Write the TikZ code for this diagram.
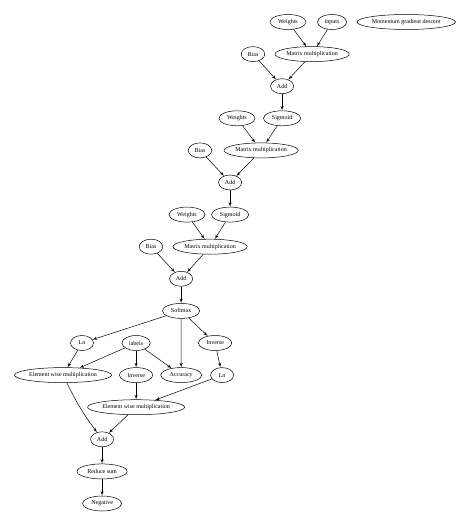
\documentclass[tikz,border=0pt]{standalone}
\usepackage{fontspec}
\setmainfont{Liberation Serif}
\usetikzlibrary{arrows,shapes.geometric}

\begin{document}
\begin{tikzpicture}[>=latex',x=1pt,y=1pt,line width=0.5pt,node distance=32.1pt,
	op/.style={shape=ellipse,draw,inner xsep=3pt,inner ysep=0pt,minimum width=23pt,minimum height=15pt,font=\fontsize{6}{7}\selectfont},
	longop/.style={op,inner xsep=0.5pt}]
					\useasboundingbox (0,0) rectangle (474,-524);

					% first layer
					\node (weights1) [op] at (288,-22) {Weights};
					\node (inputs) [op] [right of = weights1, xshift=12pt] {inputs};
					\node (momentum) [longop] [right of = inputs, xshift=42pt] {Momentum gradient descent};
					\node (matmul1) [longop] [below of = inputs, xshift=-20pt] {Matrix multiplication};
					\node (bias1) [op] [left of = matmul1, xshift=-27pt] {Bias};
					\node (add1) [op] [below of = matmul1, xshift=-30pt] {Add};
					\node (sigmoid1) [op] [below of = add1] {Sigmoid};

					% second layer
					\node (weights2) [op] [left of = sigmoid1, xshift=-13pt] {Weights};
					\node (matmul2) [longop] [below of = sigmoid1, xshift=-21pt] {Matrix multiplication};
					\node (bias2) [op] [left of = matmul2, xshift=-29pt] {Bias};
					\node (add2) [op] [below of = matmul2, xshift=-31pt] {Add};
					\node (sigmoid2) [op] [below of = add2] {Sigmoid};

					% third layer
					\node (weights3) [op] [left of = sigmoid2, xshift=-11pt] {Weights};
					\node (matmul3) [longop] [below of = sigmoid2, xshift=-20pt] {Matrix multiplication};
					\node (bias3) [op] [left of = matmul3, xshift=-27pt] {Bias};
					\node (add3) [op] [below of = matmul3, xshift=-29pt] {Add};
					\node (softmax) [op] [below of = add3] {Softmax};

					% loss and accuracy
					\node (labels) [op] [below of = softmax, xshift=-45pt] {labels};
					\node (ln1) [op] [left of = labels, xshift=-22pt] {Ln};
					\node (inverse1) [op] [below of = softmax, xshift=34pt] {Inverse};
					\node (inverse2) [op] [below of = labels] {Inverse};
					\node (accuracy) [op] [right of = inverse2, xshift=13pt] {Accuracy};
					\node (ewm1) [longop] [left of = inverse2, xshift=-41pt] {Element wise multiplication};
					\node (ln2) [op] [below of = inverse1, xshift=7pt] {Ln};
					\node (ewm2) [longop] [below of = inverse2] {Element wise multiplication};
					\node (add4) [op] [below of = ewm2, xshift=-34pt] {Add};
					\node (reduce) [op] [below of = add4] {Reduce sum};
					\node (negative) [op] [below of = reduce] {Negative};

					\path[->](weights1) edge (matmul1);
					\path[->](inputs) edge (matmul1);
					\path[->](bias1) edge (add1);
					\path[->](matmul1) edge (add1);
					\path[->](add1) edge (sigmoid1);
					\path[->](weights2) edge (matmul2);
					\path[->](sigmoid1) edge (matmul2);
					\path[->](bias2) edge (add2);
					\path[->](matmul2) edge (add2);
					\path[->](add2) edge (sigmoid2);
					\path[->](weights3) edge (matmul3);
					\path[->](sigmoid2) edge (matmul3);
					\path[->](bias3) edge (add3);
					\path[->](matmul3) edge (add3);
					\path[->](add3) edge (softmax);
					\path[->](softmax) edge (ln1);
					\path[->](softmax) edge (accuracy);
					\path[->](softmax) edge (inverse1);
					\path[->](ln1) edge (ewm1);
					\path[->](labels) edge (ewm1);
					\path[->](labels) edge (inverse2);
					\path[->](labels) edge (accuracy);
					\path[->](inverse1) edge (ln2);
					\path[->](inverse2) edge (ewm2);
					\path[->](ln2) edge (ewm2);
					\path[->](ewm1) edge [bend right=5] (add4);
					\path[->](ewm2) edge (add4);
					\path[->](add4) edge (reduce);
					\path[->](reduce) edge (negative);
				\end{tikzpicture}
\end{document}
